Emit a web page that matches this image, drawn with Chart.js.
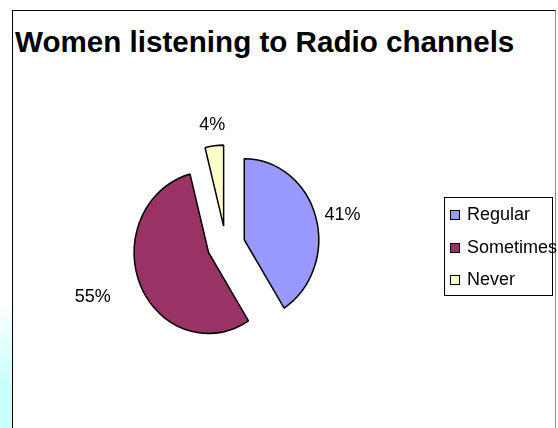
<!DOCTYPE html>
<html>
<head>
<meta charset="utf-8">
<title>Women listening to Radio channels</title>
<script src="https://cdn.jsdelivr.net/npm/chart.js@4.4.1/dist/chart.umd.min.js"></script>
<style>
    html, body { margin: 0; padding: 0; background: #fff; }
    #wrap { position: relative; width: 558px; height: 428px; overflow: hidden; font-family: "Liberation Sans", Arial, sans-serif; }
    #edge { position: absolute; left: 0; top: 0; width: 12px; height: 428px;
        background: linear-gradient(to bottom, #fff 0, #fff 300px, #c9fffb 385px, #c9fffb 100%); }
    #frame { position: absolute; left: 12px; top: 10px; width: 542px; height: 440px;
        border: 1px solid #000; border-right-color: #8c8c8c; }
    #title { position: absolute; left: 15px; top: 27px; margin: 0; font-size: 29.6px; font-weight: bold; line-height: 1; white-space: nowrap; }
    #radioChart { position: absolute; left: 0; top: 0; }
</style>
</head>
<body>
<div id="wrap">
    <div id="edge"></div>
    <div id="frame"></div>
    <h1 id="title">Women listening to Radio channels</h1>
    <canvas id="radioChart" width="558" height="428"></canvas>
</div>
<script>
(function () {
    'use strict';

    var categories = ['Regular', 'Sometimes', 'Never'];
    var shares = [41, 55, 4];
    var sliceColors = ['#9999ff', '#993366', '#ffffcc'];

    // how far each slice is pulled out, and the pie's vertical stretch
    var explode = 19;
    var stretchY = 1.087;

    var explodedPie = {
        id: 'explodedPie',
        beforeDatasetDraw: function (chart, args) {
            var ctx = chart.ctx;
            args.meta.data.forEach(function (arc) {
                var mid = (arc.startAngle + arc.endAngle) / 2;
                ctx.save();
                ctx.translate(Math.cos(mid) * explode, Math.sin(mid) * explode);
                ctx.translate(arc.x, arc.y);
                ctx.scale(1, stretchY);
                ctx.translate(-arc.x, -arc.y);
                arc.draw(ctx);
                ctx.restore();
            });
            return false;
        }
    };

    var sliceLabels = {
        id: 'sliceLabels',
        afterDatasetsDraw: function (chart, args, opts) {
            var ctx = chart.ctx;
            var meta = chart.getDatasetMeta(0);
            var values = chart.data.datasets[0].data;
            ctx.save();
            ctx.font = opts.font;
            ctx.fillStyle = '#000';
            meta.data.forEach(function (arc, i) {
                var mid = (arc.startAngle + arc.endAngle) / 2;
                var dx = Math.cos(mid);
                var dy = Math.sin(mid);
                var gap = opts.gaps[i];
                var x = arc.x + dx * (explode + arc.outerRadius + gap);
                var y = arc.y + dy * (explode + arc.outerRadius * stretchY + gap);
                if (Math.abs(dx) < 0.3) {
                    ctx.textAlign = 'center';
                    ctx.textBaseline = dy < 0 ? 'alphabetic' : 'top';
                } else {
                    ctx.textAlign = dx > 0 ? 'left' : 'right';
                    ctx.textBaseline = 'middle';
                }
                ctx.fillText(values[i] + '%', x, y);
            });
            ctx.restore();
        }
    };

    var boxedLegend = {
        id: 'boxedLegend',
        afterDraw: function (chart, args, opts) {
            var ctx = chart.ctx;
            var labels = chart.data.labels;
            var colors = chart.data.datasets[0].backgroundColor;
            ctx.save();
            ctx.strokeStyle = '#000';
            ctx.lineWidth = 1;
            ctx.strokeRect(opts.left + 0.5, opts.top + 0.5, opts.width, opts.height);
            ctx.font = opts.font;
            ctx.textAlign = 'left';
            ctx.textBaseline = 'middle';
            labels.forEach(function (label, i) {
                var cy = Math.round(opts.top + opts.firstRow + i * opts.rowHeight);
                ctx.fillStyle = colors[i];
                ctx.fillRect(opts.left + 6.5, cy - 4.5, 9, 9);
                ctx.strokeRect(opts.left + 6.5, cy - 4.5, 9, 9);
                ctx.fillStyle = '#000';
                ctx.fillText(label, opts.left + 23, cy);
            });
            ctx.restore();
        }
    };

    new Chart(document.getElementById('radioChart'), {
        type: 'pie',
        data: {
            labels: categories,
            datasets: [
                {
                    data: shares,
                    backgroundColor: sliceColors,
                    borderColor: '#000',
                    borderWidth: 1.5
                }
            ]
        },
        options: {
            responsive: false,
            animation: false,
            events: [],
            radius: 74.5,
            layout: {
                padding: { left: 126, right: 232, top: 145, bottom: 83 }
            },
            plugins: {
                legend: { display: false },
                tooltip: { enabled: false },
                sliceLabels: {
                    font: '18px "Liberation Sans", Arial, sans-serif',
                    gaps: [9, 32, 16]
                },
                boxedLegend: {
                    left: 444,
                    top: 197,
                    width: 108,
                    height: 98,
                    firstRow: 18,
                    rowHeight: 32.5,
                    font: '18px "Liberation Sans", Arial, sans-serif'
                }
            }
        },
        plugins: [explodedPie, sliceLabels, boxedLegend]
    });
})();
</script>
</body>
</html>
